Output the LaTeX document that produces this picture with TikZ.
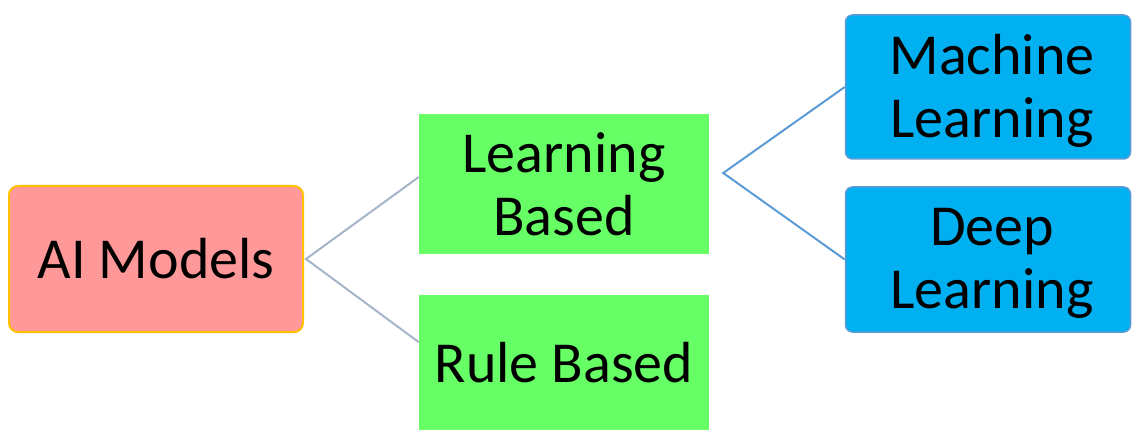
\documentclass[tikz,border=0pt]{standalone}
\usepackage{fontspec}
\setmainfont{Carlito}
\usetikzlibrary{calc}
\definecolor{pinkfill}{HTML}{FF9999}
\definecolor{goldline}{HTML}{FFC000}
\definecolor{greenfill}{HTML}{66FF66}
\definecolor{bluefill}{HTML}{00B0F0}
\definecolor{blueline}{HTML}{5B9BD5}
\definecolor{grayline}{HTML}{A6B5CA}
\tikzset{
  box/.style={rectangle, inner sep=0pt, align=center, text=black,
    font=\fontsize{58}{63}\selectfont},
  rootbox/.style={box, fill=pinkfill, draw=goldline, line width=2pt, rounded corners=9pt},
  midbox/.style={box, fill=greenfill},
  leafbox/.style={box, fill=bluefill, draw=blueline, line width=1.5pt, rounded corners=7pt},
  leaftext/.style={box},
  graylink/.style={draw=grayline, line width=2pt},
  bluelink/.style={draw=blueline, line width=2pt}
}
\begin{document}
\begin{tikzpicture}[x=1pt,y=-1pt]
\useasboundingbox (0,0) rectangle (1132,430);
\node[rootbox, minimum width=294pt, minimum height=146pt] (AI) at (156,259) {AI Models};
\node[midbox, minimum width=290pt, minimum height=140pt] (LB) at (564,184) {Learning\\Based};
\node[midbox, minimum width=290pt, minimum height=135pt] (RB) at (564,362.5) {Rule Based};
\node[leafbox, minimum width=285pt, minimum height=144pt] (ML) at (988,87) {};
\node[leafbox, minimum width=285pt, minimum height=145pt] (DL) at (988,259.5) {};
\node[leaftext] (MLt) at ($(ML.center)+(4,4)$) {Machine\\Learning};
\node[leaftext] (DLt) at ($(DL.center)+(4,4)$) {Deep\\Learning};
\coordinate (b1) at ($(AI.east)+(2,0)$);
\coordinate (b2) at ($(LB.east)+(14,-11)$);
\draw[graylink] ($(LB.north west)!0.45!(LB.south west)$) -- (b1) -- ($(RB.north west)!0.35!(RB.south west)$);
\draw[bluelink] (ML.west) -- (b2) -- (DL.west);
\end{tikzpicture}
\end{document}
